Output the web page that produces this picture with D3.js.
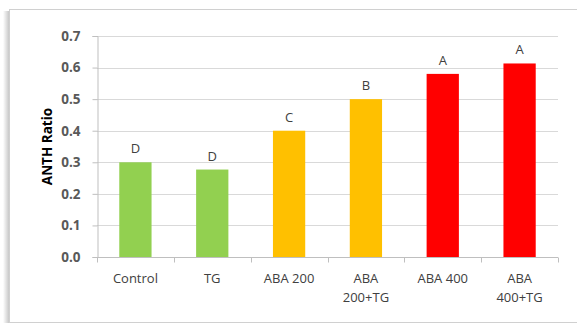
<!DOCTYPE html>
<html><head><meta charset="utf-8">
<script src="https://cdn.jsdelivr.net/npm/d3@7"></script>
<style>body{margin:0;background:#fff}svg{display:block}</style>
</head><body><svg id="c" width="577" height="325"></svg>
<script>
const categories = [["Control"],["TG"],["ABA 200"],["ABA","200+TG"],["ABA 400"],["ABA","400+TG"]];
const values = [0.30, 0.277, 0.40, 0.50, 0.58, 0.613];
const letters = ["D","D","C","B","A","A"];
const colors = ["#92D050","#92D050","#FFC000","#FFC000","#FF0000","#FF0000"];
const yTicks = [0,0.1,0.2,0.3,0.4,0.5,0.6,0.7];
const yTitle = "ANTH Ratio";

const svg = d3.select("#c");
const font = "'Open Sans', sans-serif";
// frame with shadow
const defs = svg.append("defs");
const lg = defs.append("linearGradient").attr("id","sh").attr("x1",0).attr("x2",1);
lg.append("stop").attr("offset",0).attr("stop-color","#fff");
lg.append("stop").attr("offset",1).attr("stop-color","#c8c8c8");
svg.append("rect").attr("x",3).attr("y",11).attr("width",6).attr("height",312).attr("fill","url(#sh)");
svg.append("rect").attr("x",9.5).attr("y",9.5).attr("width",580).attr("height",313)
  .attr("fill","#fff").attr("stroke","#d0d0d0").attr("stroke-width",1);

const x0 = 97, x1 = 558, yTop = 36, yBot = 257;
const x = d3.scaleBand().domain(d3.range(categories.length)).range([x0,x1]).paddingInner(0.58).paddingOuter(0.29);
const xb = d3.scaleBand().domain(d3.range(categories.length)).range([x0,x1]);
const y = d3.scaleLinear().domain([0,0.7]).range([yBot,yTop]);

// gridlines
svg.append("g").selectAll("line").data(yTicks.slice(1)).join("line")
  .attr("x1",x0).attr("x2",x1).attr("y1",d=>Math.round(y(d))+0.5).attr("y2",d=>Math.round(y(d))+0.5)
  .attr("stroke","#d9d9d9");

// y axis
const ya = svg.append("g").attr("transform",`translate(${x0+0.5},0)`)
  .call(d3.axisLeft(y).tickValues(yTicks).tickFormat(d3.format(".1f")).tickSize(5).tickPadding(12));
ya.select(".domain").attr("stroke","#bfbfbf");
ya.selectAll(".tick line").attr("stroke","#bfbfbf");
ya.selectAll(".tick text").attr("font-family",font).attr("font-size",13.5).attr("font-weight","bold").attr("fill","#595959");

// bars
svg.append("g").selectAll("rect").data(values).join("rect")
  .attr("x",(d,i)=>x(i)).attr("width",x.bandwidth())
  .attr("y",d=>y(d)).attr("height",d=>yBot-y(d)).attr("fill",(d,i)=>colors[i]);

// x axis
const xa = svg.append("g").attr("transform",`translate(0,${yBot+0.5})`);
xa.append("line").attr("x1",x0).attr("x2",x1).attr("stroke","#bfbfbf");
xa.selectAll("line.t").data(d3.range(categories.length+1)).join("line").attr("class","t")
  .attr("x1",i=>Math.round(x0+i*xb.bandwidth())+0.5).attr("x2",i=>Math.round(x0+i*xb.bandwidth())+0.5)
  .attr("y1",0).attr("y2",5).attr("stroke","#bfbfbf");
const lab = svg.append("g").selectAll("text").data(categories).join("text")
  .attr("x",(d,i)=>xb(i)+xb.bandwidth()/2).attr("y",283)
  .attr("text-anchor","middle").attr("font-family",font).attr("font-size",13).attr("fill","#404040");
lab.selectAll("tspan").data(d=>d).join("tspan")
  .attr("x",function(){return d3.select(this.parentNode).attr("x");})
  .attr("dy",(d,i)=>i===0?0:19).text(d=>d);

// letters
svg.append("g").selectAll("text").data(values).join("text")
  .attr("x",(d,i)=>x(i)+x.bandwidth()/2).attr("y",d=>y(d)-9)
  .attr("text-anchor","middle").attr("font-family",font).attr("font-size",13).attr("fill","#404040")
  .text((d,i)=>letters[i]);

// y title
svg.append("text").attr("transform",`translate(52,${(yTop+yBot)/2}) rotate(-90)`)
  .attr("text-anchor","middle").attr("font-family",font).attr("font-size",13.5).attr("font-weight","bold")
  .attr("fill","#000").text(yTitle);
</script></body></html>
